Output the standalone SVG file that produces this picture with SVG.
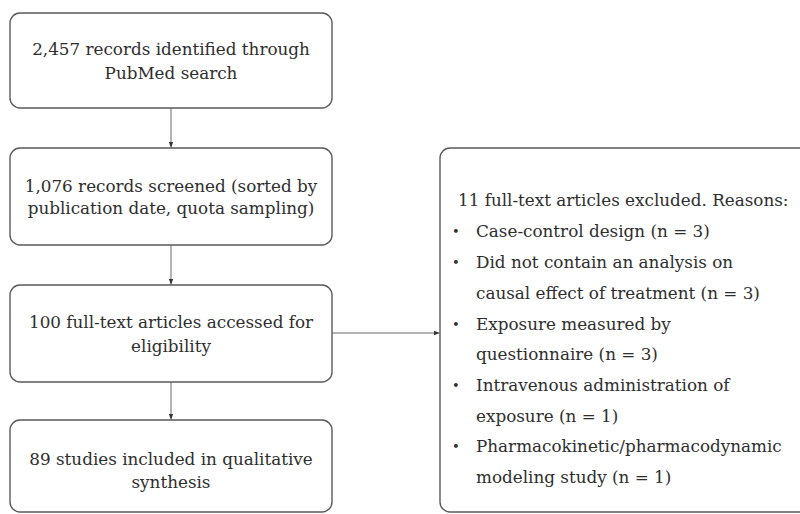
<svg xmlns="http://www.w3.org/2000/svg" width="800" height="514" viewBox="0 0 800 514">
  <style>
    .box { fill: #ffffff; stroke: #5a5a5a; stroke-width: 1.4; }
    .t { font-family: "DejaVu Serif", "Liberation Serif", serif; font-size: 16.8px; fill: #2e2e2e; }
    .b { font-family: "DejaVu Serif", "Liberation Serif", serif; font-size: 13px; fill: #2e2e2e; }
    .c { text-anchor: middle; }
    .conn { stroke: #6a6a6a; stroke-width: 1; fill: none; }
  </style>
  <defs>
    <marker id="arr" viewBox="0 0 10 10" refX="10" refY="5" markerWidth="6" markerHeight="6" markerUnits="userSpaceOnUse" orient="auto">
      <path d="M0,1 L10,5 L0,9 Z" fill="#333333"/>
    </marker>
  </defs>
  <rect width="800" height="514" fill="#ffffff"/>

  <g id="connectors">
    <line class="conn" x1="171" y1="108" x2="171" y2="147.5" marker-end="url(#arr)"/>
    <line class="conn" x1="171" y1="245" x2="171" y2="284.5" marker-end="url(#arr)"/>
    <line class="conn" x1="171" y1="382" x2="171" y2="419.5" marker-end="url(#arr)"/>
    <line class="conn" x1="332" y1="333" x2="439.5" y2="333" marker-end="url(#arr)"/>
  </g>

  <g id="identified">
    <rect class="box" x="10" y="13" width="322" height="95" rx="10"/>
    <text class="t c" x="171" y="55">2,457 records identified through</text>
    <text class="t c" x="171" y="79">PubMed search</text>
  </g>

  <g id="screened">
    <rect class="box" x="10" y="148" width="322" height="97" rx="10"/>
    <text class="t c" x="171" y="192">1,076 records screened (sorted by</text>
    <text class="t c" x="171" y="214">publication date, quota sampling)</text>
  </g>

  <g id="fulltext">
    <rect class="box" x="10" y="285" width="322" height="97" rx="10"/>
    <text class="t c" x="171" y="328">100 full-text articles accessed for</text>
    <text class="t c" x="171" y="352">eligibility</text>
  </g>

  <g id="included">
    <rect class="box" x="10" y="420" width="322" height="92" rx="10"/>
    <text class="t c" x="171" y="465">89 studies included in qualitative</text>
    <text class="t c" x="171" y="488">synthesis</text>
  </g>

  <g id="excluded">
    <rect class="box" x="440" y="148" width="370" height="364" rx="10"/>
    <text class="t" x="458" y="206">11 full-text articles excluded. Reasons:</text>
    <text class="b" x="452" y="236">•</text>
    <text class="t" x="476" y="237">Case-control design (n = 3)</text>
    <text class="b" x="452" y="267">•</text>
    <text class="t" x="476" y="268">Did not contain an analysis on</text>
    <text class="t" x="476" y="299">causal effect of treatment (n = 3)</text>
    <text class="b" x="452" y="329">•</text>
    <text class="t" x="476" y="330">Exposure measured by</text>
    <text class="t" x="476" y="360">questionnaire (n = 3)</text>
    <text class="b" x="452" y="390">•</text>
    <text class="t" x="476" y="391">Intravenous administration of</text>
    <text class="t" x="476" y="422">exposure (n = 1)</text>
    <text class="b" x="452" y="451">•</text>
    <text class="t" x="476" y="452">Pharmacokinetic/pharmacodynamic</text>
    <text class="t" x="476" y="483">modeling study (n = 1)</text>
  </g>
</svg>
